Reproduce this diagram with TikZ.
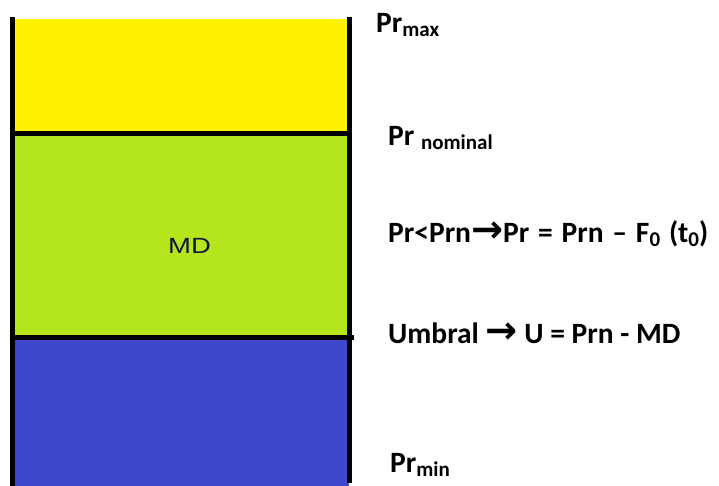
\documentclass[tikz,border=0pt]{standalone}
\usepackage{fontspec}
\setmainfont{Carlito}
\newfontfamily\arrowfont{DejaVu Sans}
\newfontfamily\mdfont{Liberation Sans}
\usepackage{tikz}
\definecolor{levelyellow}{RGB}{255,242,0}
\definecolor{levelgreen}{RGB}{181,230,29}
\definecolor{levelblue}{RGB}{63,72,204}
\definecolor{mdnavy}{RGB}{20,20,60}
\newcommand{\lowsub}[1]{\raisebox{-4pt}{\fontsize{21}{21}\selectfont #1}}
\newcommand{\bigarrow}{{\arrowfont\bfseries\scalebox{1.3}{→}}}

\begin{document}
\begin{tikzpicture}[x=1pt,y=-1pt,
    wall/.style={black, line width=5pt},
    level/.style={anchor=base west, inner sep=0pt, font=\fontsize{29.5}{31}\selectfont\bfseries}]
        \useasboundingbox (0,0) rectangle (719,486);
        % bands of the tank
        \fill[levelyellow] (12,19) rectangle (349,134);
        \fill[levelgreen] (12,134) rectangle (349,337.5);
        \fill[levelblue] (12,337.5) rectangle (349,486);
        % walls and level lines
        \draw[wall] (12,17) -- (12,486);
        \draw[wall] (349,17) -- (349,483);
        \draw[wall] (12,134) -- (349,134);
        \draw[wall] (12,337.5) -- (354,337.5);
        \node[font=\mdfont\fontsize{22}{22}\selectfont, text=mdnavy, xscale=1.25] (md) at (189.5,246) {MD};
        % labels
        \node[level] (prmax) at (376,33) {Pr\lowsub{max}};
        \node[level] (prnom) at (388,146) {Pr \lowsub{nominal}};
        \node[level] (rule) at (388,242) {\spaceskip=8.8pt Pr<Prn\bigarrow Pr = Prn – F\lowsub{0} (t\lowsub{0})};
        \node[level] (umbral) at (388,343) {Umbral \bigarrow{} U = Prn - MD};
        \node[level] (prmin) at (390,472) {Pr\lowsub{min}};
\end{tikzpicture}
\end{document}
